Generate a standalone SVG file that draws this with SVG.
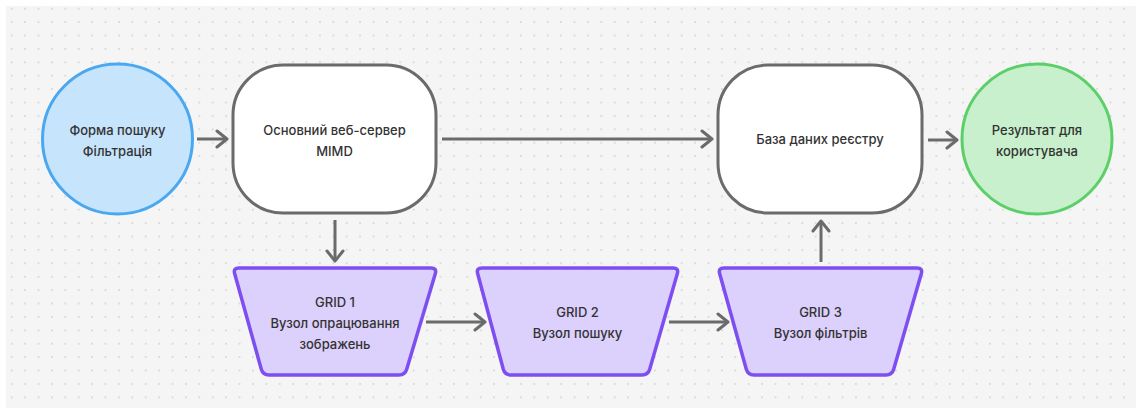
<svg xmlns="http://www.w3.org/2000/svg" width="1141" height="415" viewBox="0 0 1141 415">
<defs>
<pattern id="dots" x="5" y="2" width="13.4" height="13.4" patternUnits="userSpaceOnUse">
<circle cx="6.7" cy="6.7" r="0.9" fill="#cfcfcf"/>
</pattern>
<marker id="arr" markerUnits="userSpaceOnUse" markerWidth="20" markerHeight="20" viewBox="-12 -10 14 20" refX="0" refY="0" orient="auto">
<path d="M-10,-8 L0,0 L-10,8" fill="none" stroke="#6b6b6b" stroke-width="3" stroke-linecap="round" stroke-linejoin="round"/>
</marker>
<style>
.t{font-family:Inter,"Noto Sans",sans-serif;font-size:13px;font-weight:500;fill:#333;text-anchor:middle}
.rr{fill:#fff;stroke:#6b6b6b;stroke-width:3}
.trap{fill:#dcd0fc;stroke:#7d4ff0;stroke-width:3.5;stroke-linejoin:round}
.c{fill:none;stroke:#6b6b6b;stroke-width:3;marker-end:url(#arr)}
</style>
</defs>
<rect width="1141" height="415" fill="#ffffff"/>
<rect x="6" y="6" width="1130" height="402" fill="#f5f5f5"/>
<rect x="6" y="6" width="1130" height="402" fill="url(#dots)"/>
<g id="connectors">
<line class="c" x1="197" y1="139" x2="227" y2="139"/>
<line class="c" x1="442" y1="139" x2="712" y2="139"/>
<line class="c" x1="928" y1="140" x2="957" y2="140"/>
<line class="c" x1="335" y1="220" x2="335" y2="261"/>
<line class="c" x1="426" y1="322" x2="485" y2="322"/>
<line class="c" x1="669" y1="322" x2="728" y2="322"/>
<line class="c" x1="821" y1="262" x2="821" y2="221"/>
</g>
<g id="form">
<circle cx="117.5" cy="139" r="75" fill="#c6e4fb" stroke="#4aa8f0" stroke-width="3"/>
<text class="t" x="117.5" y="135">Форма пошуку</text>
<text class="t" x="117.5" y="156">Фільтрація</text>
</g>
<g id="webserver">
<rect class="rr" x="233" y="65" width="203" height="148" rx="50"/>
<text class="t" x="334.5" y="135">Основний веб-сервер</text>
<text class="t" x="334.5" y="156">MIMD</text>
</g>
<g id="database">
<rect class="rr" x="718" y="65" width="204" height="148" rx="50"/>
<text class="t" x="820" y="144">База даних реєстру</text>
</g>
<g id="result">
<circle cx="1037" cy="139" r="75" fill="#c8f0cc" stroke="#5ccf6a" stroke-width="3"/>
<text class="t" x="1037" y="135">Результат для</text>
<text class="t" x="1037" y="156">користувача</text>
</g>
<g id="grid1">
<path class="trap" d="M239,268 L431,268 Q437,268 435.3,273.7 L406.7,369.3 Q405,375 399,375 L269,375 Q263,375 261.3,369.3 L234.7,273.7 Q233,268 239,268 Z"/>
<text class="t" x="335" y="307">GRID 1</text>
<text class="t" x="335" y="328">Вузол опрацювання</text>
<text class="t" x="335" y="349">зображень</text>
</g>
<g id="grid2">
<path class="trap" d="M482,268 L673,268 Q679,268 677.3,273.7 L649.7,369.3 Q648,375 642,375 L511,375 Q505,375 503.3,369.3 L477.7,273.7 Q476,268 482,268 Z"/>
<text class="t" x="577.5" y="317">GRID 2</text>
<text class="t" x="577.5" y="338">Вузол пошуку</text>
</g>
<g id="grid3">
<path class="trap" d="M724,268 L917,268 Q923,268 921.3,273.7 L893.7,369.3 Q892,375 886,375 L754,375 Q748,375 746.3,369.3 L719.7,273.7 Q718,268 724,268 Z"/>
<text class="t" x="820.5" y="317">GRID 3</text>
<text class="t" x="820.5" y="338">Вузол фільтрів</text>
</g>
</svg>
